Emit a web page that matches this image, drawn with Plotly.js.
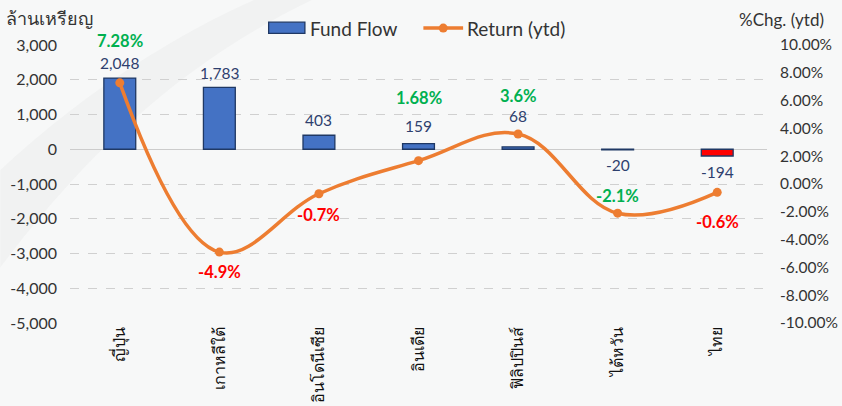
<!DOCTYPE html>
<html>
<head>
<meta charset="utf-8">
<script src="https://cdn.plot.ly/plotly-3.0.1.min.js"></script>
<style>
html,body{margin:0;padding:0;background:#f7f8f8;}
#chart{width:842px;height:406px;}
</style>
</head>
<body>
<div id="chart"></div>
<script>
const categories = ["ญี่ปุ่น", "เกาหลีใต้", "อินโดนีเซีย", "อินเดีย", "ฟิลิปปินส์", "ไต้หวัน", "ไทย"];
const fundFlow = [2048, 1783, 403, 159, 68, -20, -194];
const returnYtd = [7.28, -4.9, -0.7, 1.68, 3.6, -2.1, -0.6];
const returnLabels = ["7.28%", "-4.9%", "-0.7%", "1.68%", "3.6%", "-2.1%", "-0.6%"];
const leftTicks = [3000, 2000, 1000, 0, -1000, -2000, -3000, -4000, -5000];
const rightTicks = [10, 8, 6, 4, 2, 0, -2, -4, -6, -8, -10];
const seriesNames = ["Fund Flow", "Return (ytd)"];

const retShift = [42, -20, -21, 63, 38, 17, -30];
const barShift = [15, 14, 15, 18, 31, -15, -16];
const labelColor = ["#00B050", "#FF0000", "#FF0000", "#00B050", "#00B050", "#00B050", "#FF0000"];
const barColors = categories.map((c, i) => i === categories.length - 1 ? "#FF0000" : "#4472C4");

const fmt = v => v.toLocaleString("en-US");
const FONT = "Lato, Open Sans, Noto Sans, sans-serif";
const BLUE = "#4472C4", ORANGE = "#ED7D31", BORDER = "#1F3864";

const traces = [
  {
    type: "bar", name: seriesNames[0], x: categories, y: fundFlow,
    marker: {color: barColors, line: {color: BORDER, width: 1.3}},
    width: 0.32, hoverinfo: "skip", showlegend: false
  },
  {
    type: "scatter", mode: "lines+markers", name: seriesNames[1], x: categories, y: returnYtd, yaxis: "y2",
    line: {color: ORANGE, width: 3.5, shape: "spline", smoothing: 1.1},
    marker: {color: ORANGE, size: 9},
    hoverinfo: "skip", showlegend: false
  }
];

const annotations = [];
categories.forEach((c, i) => {
  annotations.push({
    x: c, y: fundFlow[i], xref: "x", yref: "y", yshift: barShift[i],
    text: fmt(fundFlow[i]), showarrow: false,
    font: {family: FONT, size: 15.5, color: "#2E3F6E"}
  });
  annotations.push({
    x: c, y: returnYtd[i], xref: "x", yref: "y2", yshift: retShift[i],
    text: "<b>" + returnLabels[i] + "</b>", showarrow: false,
    font: {family: FONT, size: 16.5, color: labelColor[i]}
  });
});
annotations.push({
  xref: "paper", yref: "paper", x: -0.095, y: 1.045, xanchor: "left", yanchor: "bottom",
  text: "ล้านเหรียญ", showarrow: false,
  font: {family: "Noto Sans, sans-serif", size: 18, color: "#333"}
});
annotations.push({
  xref: "paper", yref: "paper", x: 1.084, y: 1.045, xanchor: "right", yanchor: "bottom",
  text: "%Chg. (ytd)", showarrow: false,
  font: {family: FONT, size: 17, color: "#333"}
});
// legend texts
annotations.push({
  xref: "paper", yref: "paper", x: 0.341, y: 1.061, xanchor: "left", yanchor: "middle",
  text: seriesNames[0], showarrow: false, font: {family: FONT, size: 19, color: "#333"}
});
annotations.push({
  xref: "paper", yref: "paper", x: 0.566, y: 1.061, xanchor: "left", yanchor: "middle",
  text: seriesNames[1], showarrow: false, font: {family: FONT, size: 19, color: "#333"}
});

const shapes = [
  {
    type: "path", xref: "paper", yref: "paper", layer: "below",
    path: "M -0.1 0.55 C 0.05 0.9, 0.2 1.1, 0.3 1.2 L 0.38 1.2 C 0.2 1.0, 0.05 0.7, -0.1 0.2 Z",
    fillcolor: "rgba(200,200,200,0.10)", line: {width: 0}
  },
  // legend symbols
  {type: "rect", xref: "paper", yref: "paper", x0: 0.285, x1: 0.337, y0: 1.042, y1: 1.082,
    fillcolor: BLUE, line: {color: BORDER, width: 1.3}},
  {type: "line", xref: "paper", yref: "paper", x0: 0.507, x1: 0.564, y0: 1.061, y1: 1.061,
    line: {color: ORANGE, width: 3.5}},
  {type: "circle", xref: "paper", yref: "paper", x0: 0.5355 - 0.0065, x1: 0.5355 + 0.0065, y0: 1.061 - 0.016, y1: 1.061 + 0.016,
    fillcolor: ORANGE, line: {width: 0}}
];

const layout = {
  width: 842, height: 406,
  paper_bgcolor: "#f7f8f8", plot_bgcolor: "rgba(0,0,0,0)",
  margin: {l: 70, r: 75, t: 45, b: 83},
  showlegend: false,
  xaxis: {
    tickangle: -90, showgrid: false, zeroline: false, showline: false, ticks: "",
    tickfont: {family: "Noto Sans, sans-serif", size: 16, color: "#111"}, automargin: false
  },
  yaxis: {
    range: [-5000, 3000], tickvals: leftTicks, ticktext: leftTicks.map(fmt),
    showgrid: true, gridcolor: "#d0d0d0", griddash: "dash", gridwidth: 1,
    zeroline: true, zerolinecolor: "#cccccc", zerolinewidth: 1.5,
    tickfont: {family: FONT, size: 16, color: "#333"},
    ticks: "", showline: false, ticklabelstandoff: 12, automargin: false
  },
  yaxis2: {
    range: [-10, 10], overlaying: "y", side: "right",
    tickvals: rightTicks, ticktext: rightTicks.map(v => v.toFixed(2) + "%"),
    showgrid: false, zeroline: false, ticks: "", showline: false,
    tickfont: {family: FONT, size: 15.5, color: "#333"}, ticklabelstandoff: 12, automargin: false
  },
  annotations: annotations,
  shapes: shapes
};

Plotly.newPlot("chart", traces, layout, {displayModeBar: false, staticPlot: true});
</script>
</body>
</html>
